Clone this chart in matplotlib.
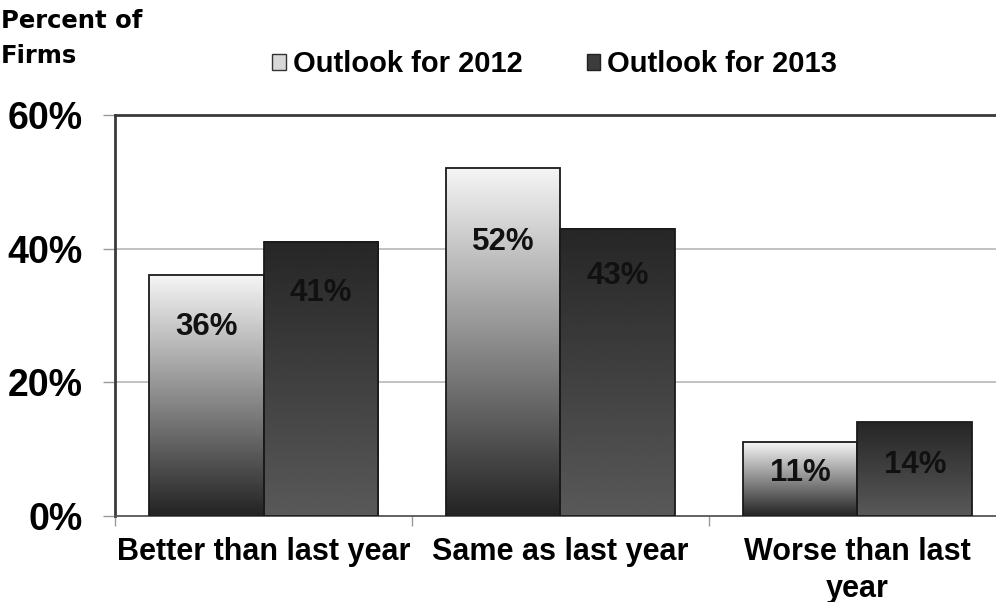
import numpy as np
import matplotlib
matplotlib.use("Agg")
import matplotlib.pyplot as plt
from matplotlib.patches import Patch


# ========================
# DATA
# ========================
categories = ["Better than last year", "Same as last year", "Worse than last\nyear"]
series_names = ["Outlook for 2012", "Outlook for 2013"]
outlook_2012 = [36, 52, 11]
outlook_2013 = [41, 43, 14]
y_ticks = [0, 20, 40, 60]

# where the value labels sit inside each bar (percent units)
label_pos_2012 = [28.3, 41.0, 6.4]
label_pos_2013 = [33.4, 35.9, 7.6]

FONT = "Liberation Sans"
BAR_W = 0.386


def gradient_bar(ax, x0, width, height, top, bottom):
    """Fill a bar with a vertical grey gradient (top -> bottom)."""
    grad = np.linspace(top, bottom, 256).reshape(-1, 1)
    ax.imshow(grad, cmap="gray", vmin=0, vmax=1, aspect="auto",
              extent=[x0, x0 + width, 0, height], origin="upper",
              interpolation="bicubic", zorder=2)
    ax.bar(x0, height, width=width, align="edge", facecolor="none",
           edgecolor="#1a1a1a", linewidth=1.3, zorder=3)


fig = plt.figure(figsize=(9.96, 6.02), dpi=100)
ax = fig.add_axes([0.1155, 0.1429, 0.8945, 0.6661])

x = np.arange(len(categories))
for i in x:
    gradient_bar(ax, i - BAR_W, BAR_W, outlook_2012[i], 0.96, 0.14)
    gradient_bar(ax, i, BAR_W, outlook_2013[i], 0.15, 0.35)
    ax.text(i - BAR_W / 2, label_pos_2012[i], f"{outlook_2012[i]}%",
            ha="center", va="center", fontsize=22.5, fontweight="bold",
            family=FONT, color="#111111", zorder=4)
    ax.text(i + BAR_W / 2, label_pos_2013[i], f"{outlook_2013[i]}%",
            ha="center", va="center", fontsize=22.5, fontweight="bold",
            family=FONT, color="#111111", zorder=4)

ax.set_xlim(-0.5, 2.5)
ax.set_ylim(0, 60)

# gridlines
for t in y_ticks[1:-1]:
    ax.axhline(t, color="#b8b8b8", linewidth=1.2, zorder=1)

ax.set_yticks(y_ticks)
ax.set_yticklabels([f"{t}%" for t in y_ticks], fontsize=27,
                   fontweight="bold", family=FONT)
ax.tick_params(axis="y", direction="out", length=9, width=1,
               color="#999999", pad=14)

ax.set_xticks(x)
ax.set_xticklabels(categories, fontsize=22, fontweight="bold", family=FONT,
                   linespacing=1.3)
ax.tick_params(axis="x", which="major", length=0, pad=15)
ax.set_xticks([-0.5, 0.5, 1.5, 2.5], minor=True)
ax.tick_params(axis="x", which="minor", direction="out", length=7,
               width=1, color="#999999")

for side in ["left", "top"]:
    ax.spines[side].set_color("#3a3a3a")
    ax.spines[side].set_linewidth(2)
ax.spines["bottom"].set_color("#555555")
ax.spines["bottom"].set_linewidth(1.3)
ax.spines["right"].set_visible(False)

handles = [Patch(facecolor="#d8d8d8", edgecolor="#333333", linewidth=1),
           Patch(facecolor="#3c3c3c", edgecolor="#222222", linewidth=1)]
fig.legend(handles, series_names, loc="center", bbox_to_anchor=(0.557, 0.893),
           ncol=2, frameon=False, handlelength=0.45, handleheight=0.45,
           handletextpad=0.25, columnspacing=2.2,
           prop={"family": FONT, "weight": "bold", "size": 21})

fig.text(0.001, 0.985, "Percent of\nFirms", ha="left", va="top",
         fontsize=17.5, fontweight="bold", family="DejaVu Sans",
         linespacing=1.6)

fig.savefig("out.png", dpi=100)
